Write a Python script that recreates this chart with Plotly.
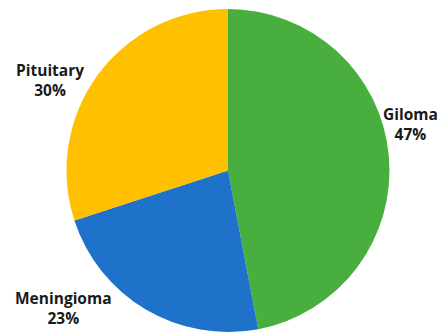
import plotly.graph_objects as go

labels = ["Giloma", "Meningioma", "Pituitary"]
values = [47, 23, 30]
colors = ["#48AE3E", "#1F72C9", "#FFC000"]
label_x = [410, 63, 50]
label_y = [124, 308, 80]

W, H = 439, 332
fig = go.Figure(go.Pie(
    labels=labels, values=values, sort=False, direction="clockwise", rotation=0,
    marker=dict(colors=colors, line=dict(width=0)),
    textinfo="none", hoverinfo="label+percent", showlegend=False,
    domain=dict(x=[66 / W, 390 / W], y=[0, 1 - 9 / H]),
))

total = sum(values)
for lab, v, x, y in zip(labels, values, label_x, label_y):
    fig.add_annotation(
        x=x / W, y=1 - y / H, xref="paper", yref="paper",
        text=f"<b>{lab}<br>{round(100 * v / total)}%</b>",
        showarrow=False, xanchor="center", yanchor="middle",
        font=dict(family="Open Sans, Liberation Sans, sans-serif", size=15.5, color="#1a1a1a"),
    )

fig.update_layout(
    width=W, height=H, margin=dict(l=0, r=0, t=0, b=0),
    paper_bgcolor="white", plot_bgcolor="white",
)
fig.write_html(
    "out.html",
    config={"displayModeBar": False},
    post_script="document.body.style.margin='0';document.body.style.overflow='hidden';",
)
